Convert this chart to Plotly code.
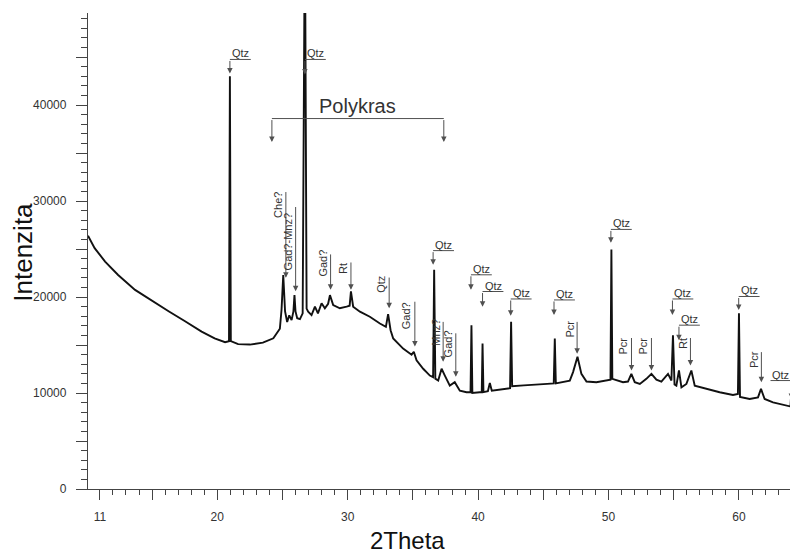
import plotly.graph_objects as go

# ---- data ----
two_theta = [10.09, 10.6, 11.4, 12.4, 13.7, 15.0, 16.3, 17.5, 18.8, 19.8, 20.6,
             20.90, 20.97, 21.04, 21.6, 22.5, 23.5, 24.3, 24.8, 24.93, 25.06, 25.2,
             25.36, 25.52, 25.70, 25.84, 25.92, 26.0, 26.13, 26.34, 26.55, 26.72,
             26.85, 26.97, 27.23, 27.49, 27.72, 28.00, 28.25, 28.50, 28.64, 28.89,
             29.40, 29.92, 30.15, 30.25, 30.42, 30.94, 31.70, 32.47, 32.93, 33.10,
             33.29, 33.49, 34.0, 34.25, 34.90, 35.07, 35.28, 35.79, 36.30, 36.55,
             36.63, 36.72, 36.94, 37.20, 37.45, 37.83, 38.21, 38.60, 39.11, 39.42,
             39.49, 39.56, 40.13, 40.28, 40.34, 40.41, 40.75, 40.90, 41.05, 41.92,
             42.45, 42.53, 42.61, 43.5, 44.5, 45.3, 45.80, 45.88, 45.96, 47.03,
             47.28, 47.62, 47.92, 48.31, 49.07, 49.96, 50.15, 50.22, 50.29, 51.11,
             51.49, 51.75, 52.01, 52.40, 52.90, 53.29, 53.67, 54.05, 54.56, 54.82,
             54.94, 55.06, 55.20, 55.40, 55.59, 55.97, 56.35, 56.61, 57.50, 58.52,
             59.54, 59.92, 60.00, 60.08, 60.82, 61.46, 61.69, 61.97, 62.61, 63.63,
             63.95, 64.02, 64.10, 64.41]
intensity = [26400, 25100, 23700, 22300, 20750, 19600, 18500, 17500, 16400, 15700, 15300,
             15400, 43000, 15400, 15100, 15050, 15250, 15700, 16700, 18700, 22300, 18500,
             17400, 18100, 17600, 18500, 20200, 18500, 17800, 17700, 18300, 60000,
             18800, 18480, 18120, 19000, 18300, 19350, 18830, 19300, 20200, 19170,
             18830, 19000, 19100, 20600, 19000, 18480, 17950, 17250, 16900, 18230,
             16550, 15680, 14970, 14630, 14000, 14300, 13400, 12530, 11820, 11650,
             22850, 11500, 11300, 12530, 11820, 10770, 11130, 10250, 10080, 10100,
             17070, 10000, 10080, 10100, 15150, 10100, 10200, 11050, 10250, 10430,
             10500, 17430, 10700, 10800, 10850, 10950, 11000, 15680, 11000, 11300,
             12180, 13780, 12000, 11200, 11130, 11300, 11400, 24950, 11480, 11130,
             11200, 12000, 11130, 10950, 11480, 12000, 11400, 11200, 12000, 11300,
             16020, 10900, 10770, 12350, 10600, 10950, 12350, 10770, 10430, 10080,
             9800, 9900, 18300, 9600, 9380, 9550, 10430, 9380, 9030, 8670,
             8600, 10250, 8550, 8330]

x_tick_vals = [11, 15, 20, 25, 30, 35, 40, 45, 50, 55, 60]
x_tick_text = ["11", "", "20", "", "30", "", "40", "", "50", "", "60"]
y_tick_vals = [0, 5000, 10000, 15000, 20000, 25000, 30000, 35000, 40000, 45000]
y_tick_text = ["0", "", "10000", "", "20000", "", "30000", "", "40000", ""]

# horizontal phase labels: text, peak 2theta, underline level, arrow tip, side of text
h_label_text = ["Qtz"] * 12
h_label_x = [20.97, 26.72, 36.55, 39.45, 40.34, 42.50, 45.82, 50.18, 54.90, 55.40, 59.98, 64.02]
h_label_top = [44760, 44760, 24840, 22320, 20580, 19800, 19700, 27050, 19800, 17070, 20060, 11300]
h_label_tip = [43290, 43190, 23370, 20750, 19000, 18060, 18120, 25650, 18120, 15500, 18650, 9380]
h_label_side = ["right"] * 11 + ["left"]

# vertical (rotated) phase labels: text, peak 2theta, line top, arrow tip, text centre
v_label_text = ["Che?", "Gad?-Mnz?", "Gad?", "Rt", "Qtz", "Gad?", "Mnz?", "Gad?",
                "Pcr", "Pcr", "Pcr", "Rt", "Pcr"]
v_label_x = [25.26, 26.01, 28.69, 30.25, 33.18, 35.15, 37.32, 38.29,
             47.59, 51.76, 53.29, 56.28, 61.72]
v_label_top = [31100, 29540, 24600, 23760, 22190, 19670, 17570, 16380,
               17570, 15890, 15890, 15890, 14420]
v_label_tip = [22000, 20610, 20750, 20750, 18830, 14840, 13260, 11690,
               14100, 12350, 12350, 12870, 11130]
v_label_mid = [29590, 25760, 23550, 23030, 21290, 18090, 16300, 15150,
               16620, 14890, 14890, 15150, 13470]

bracket_text = "Polykras"
bracket_x = [24.19, 37.37]
bracket_level = 38600
bracket_tip = 36150

# ---- figure ----
LINE_C = "#505050"
TEXT_C = "#333333"
FONT = "Liberation Sans, Arial, sans-serif"

fig = go.Figure()
fig.add_trace(go.Scatter(x=two_theta, y=intensity, mode="lines",
                         line=dict(color="#111111", width=1.9),
                         hoverinfo="skip", showlegend=False))

annotations = []
shapes = []

def arrow(x, y_from, y_to):
    return dict(x=x, y=y_to, ax=x, ay=y_from, xref="x", yref="y", axref="x", ayref="y",
                text="", showarrow=True, arrowhead=2, arrowsize=1.1, arrowwidth=1,
                arrowcolor=LINE_C, standoff=0, startstandoff=0)

QTZ_W = 1.6  # underline length in degrees
for t, x, top, tip, side in zip(h_label_text, h_label_x, h_label_top, h_label_tip, h_label_side):
    x_end = x + QTZ_W if side == "right" else x - QTZ_W
    shapes.append(dict(type="line", xref="x", yref="y", x0=x, x1=x_end, y0=top, y1=top,
                       line=dict(color=LINE_C, width=1)))
    annotations.append(arrow(x, top, tip))
    annotations.append(dict(x=x, y=top, xref="x", yref="y", text=t, showarrow=False,
                            xanchor="left" if side == "right" else "right", yanchor="bottom",
                            yshift=-2,
                            font=dict(family=FONT, size=11, color=TEXT_C)))

for t, x, top, tip, mid in zip(v_label_text, v_label_x, v_label_top, v_label_tip, v_label_mid):
    annotations.append(arrow(x, top, tip))
    annotations.append(dict(x=x, y=mid, xref="x", yref="y", text=t, showarrow=False,
                            textangle=-90, xanchor="center", yanchor="middle", xshift=-8,
                            font=dict(family=FONT, size=11, color=TEXT_C)))

shapes.append(dict(type="line", xref="x", yref="y", x0=bracket_x[0], x1=bracket_x[1],
                   y0=bracket_level, y1=bracket_level, line=dict(color=LINE_C, width=1)))
for bx in bracket_x:
    annotations.append(arrow(bx, bracket_level, bracket_tip))
annotations.append(dict(x=(bracket_x[0] + bracket_x[1]) / 2, y=bracket_level, xref="x", yref="y",
                        text=bracket_text, showarrow=False, xanchor="center", yanchor="bottom",
                        yshift=0, font=dict(family=FONT, size=20, color=TEXT_C)))

# axis titles
annotations.append(dict(x=-0.092, y=0.498, xref="paper", yref="paper", text="Intenzita",
                        showarrow=False, textangle=-90, xanchor="center", yanchor="middle",
                        font=dict(family=FONT, size=26, color="#111111")))
annotations.append(dict(x=0.451, y=-0.109, xref="paper", yref="paper", text="2Theta",
                        showarrow=False, xanchor="center", yanchor="middle",
                        font=dict(family=FONT, size=24, color="#111111")))

# the page places the figure 8px from the top-left corner, so the figure is
# 8px smaller and its margins 8px smaller on the top/left
fig.update_layout(
    width=790, height=547,
    margin=dict(l=80, r=1, t=5, b=66),
    paper_bgcolor="white", plot_bgcolor="white",
    showlegend=False,
    annotations=annotations, shapes=shapes,
    xaxis=dict(range=[10.09, 64.45], tickmode="array", tickvals=x_tick_vals, ticktext=x_tick_text,
               ticks="outside", ticklen=10, tickwidth=1, tickcolor="#444444",
               showline=True, linecolor="#444444", linewidth=1.3,
               showgrid=False, zeroline=False, automargin=False,
               ticklabelstandoff=6,
               tickfont=dict(family=FONT, size=12, color=TEXT_C),
               minor=dict(tickmode="linear", tick0=0, dtick=1, ticks="outside", ticklen=5,
                          tickwidth=1, tickcolor="#444444", showgrid=False)),
    yaxis=dict(range=[0, 49600], tickmode="array", tickvals=y_tick_vals, ticktext=y_tick_text,
               ticks="outside", ticklen=11, tickwidth=1, tickcolor="#444444",
               showline=True, linecolor="#444444", linewidth=1.3,
               showgrid=False, zeroline=False, automargin=False,
               ticklabelstandoff=7,
               tickfont=dict(family=FONT, size=12, color=TEXT_C),
               minor=dict(tickmode="linear", tick0=0, dtick=1000, ticks="outside", ticklen=6,
                          tickwidth=1, tickcolor="#444444", showgrid=False)),
)

fig.write_html("out.html")
